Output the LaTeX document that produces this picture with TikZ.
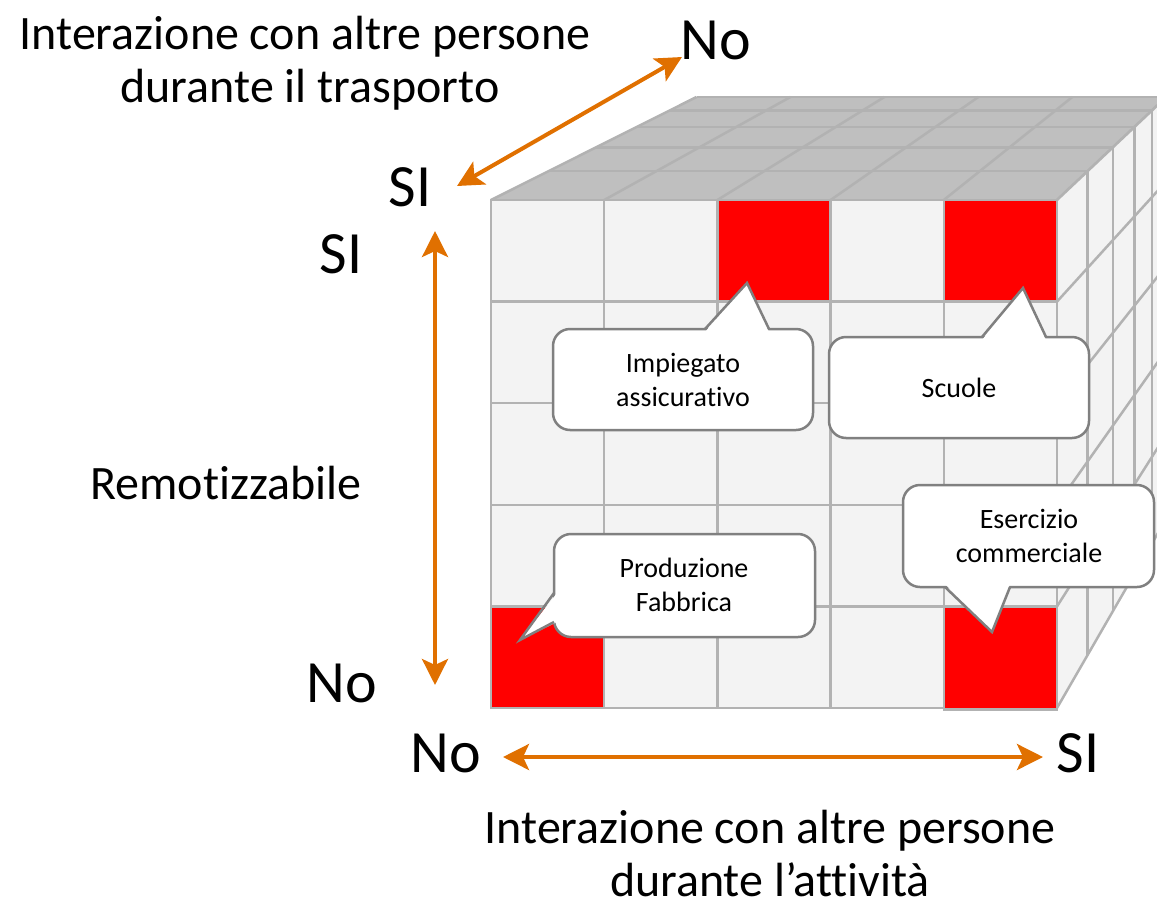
\documentclass[tikz,border=0pt]{standalone}
\usepackage{fontspec}
\setmainfont{Carlito}[Ligatures=NoCommon]
\usetikzlibrary{arrows.meta,calc}
\definecolor{axisorange}{RGB}{224,112,0}
\definecolor{gridgray}{RGB}{178,178,178}
\definecolor{topgray}{RGB}{191,191,191}
\definecolor{cellfill}{RGB}{243,243,243}
\definecolor{callgray}{RGB}{128,128,128}
\tikzset{
  gridline/.style={draw=gridgray,line width=2.5pt},
  axisarrow/.style={draw=axisorange,line width=4pt,
    {Stealth[length=26pt,width=26pt,inset=6pt]}-{Stealth[length=26pt,width=26pt,inset=6pt]}},
  bigtitle/.style={font=\fontsize{48}{56}\selectfont,inner sep=0pt,anchor=base},
  axislabel/.style={font=\fontsize{60}{70}\selectfont,inner sep=0pt},
  calloutbox/.style={draw=callgray,fill=white,line width=2.5pt,rounded corners=17pt},
  callouttail/.style={draw=callgray,line width=2.5pt,line join=miter},
  callouttext/.style={font=\fontsize{28}{34}\selectfont,align=center,inner sep=0pt},
}
\begin{document}
\begin{tikzpicture}[x=1pt,y=-1pt]
\useasboundingbox (0,0) rectangle (1157,900);
\clip (0,0) rectangle (1157,900);
\coordinate (VP) at (1700,-406);
% top face
\fill[topgray] (491,200) -- (1057,200) -- ($(1057,200)!0.17007!(VP)$) -- ($(491,200)!0.17007!(VP)$) -- cycle;
\foreach \x in {491,604.2,717.4,830.6,943.8,1057}
  \draw[gridline] (\x,200) -- ($(\x,200)!0.17007!(VP)$);
\foreach \t [evaluate=\t as \f using \t/5.88] in {0.28,0.51,0.71,0.87,1}
  \draw[gridline] ($(491,200)!\f!(VP)$) -- ($(1057,200)!\f!(VP)$);
% right face
\fill[cellfill] (1057,200) -- (1057,708) -- ($(1057,708)!0.17007!(VP)$) -- ($(1057,200)!0.17007!(VP)$) -- cycle;
\foreach \y in {200,301.6,403.2,504.8,606.4,708}
  \draw[gridline] (1057,\y) -- ($(1057,\y)!0.17007!(VP)$);
\foreach \t [evaluate=\t as \f using \t/5.88] in {0.28,0.51,0.71,0.87,1}
  \draw[gridline] ($(1057,200)!\f!(VP)$) -- ($(1057,708)!\f!(VP)$);
% front face
\foreach \i in {0,...,4}
  \foreach \j in {0,...,4}
    \filldraw[gridline,fill=cellfill] ({491+113.2*\i},{200+101.6*\j}) rectangle ++(113.2,101.6);
\filldraw[gridline,fill=red] (717.4,200) rectangle ++(113.2,101.6);
\filldraw[gridline,fill=red] (943.8,200) rectangle ++(113.2,101.6);
\filldraw[gridline,fill=red] (491,606.4) rectangle ++(113.2,101.6);
\filldraw[gridline,fill=red] (943.8,606.4) rectangle ++(113.2,103);
% callout 1
\path[calloutbox] (553,329) rectangle (813,430);
\fill[white] (705,332) -- (747,283) -- (769,332) -- cycle;
\draw[callouttail] (705,329) -- (747,283) -- (769,329);
\node[callouttext] (c1) at (683,380) {Impiegato\\assicurativo};
% callout 2
\path[calloutbox] (829,337) rectangle (1089,438);
\fill[white] (982,340) -- (1023,288) -- (1046,340) -- cycle;
\draw[callouttail] (982,337) -- (1023,288) -- (1046,337);
\node[callouttext] (c2) at (959,388) {Scuole};
% callout 3
\path[calloutbox] (554,534) rectangle (815,637);
\fill[white] (557,593) -- (520,640) -- (557,622) -- cycle;
\draw[callouttail] (554,593) -- (520,640) -- (554,622);
\node[callouttext] (c3) at (684,585) {Produzione\\Fabbrica};
% callout 4
\path[calloutbox] (903,485) rectangle (1154,587);
\fill[white] (945,584) -- (992,632) -- (1010,584) -- cycle;
\draw[callouttail] (945,587) -- (992,632) -- (1010,587);
\node[callouttext] (c4) at (1029,536) {Esercizio\\commerciale};
% labels
\node[bigtitle] (tt1) at (305,49) {Interazione con altre persone};
\node[bigtitle] (tt2) at (310,102) {durante il trasporto};
\node[bigtitle] (bt1) at (770,843) {Interazione con altre persone};
\node[bigtitle] (bt2) at (770,896) {durante l’attività};
\node[bigtitle,anchor=center] (rm) at (226,483) {Remotizzabile};
\node[axislabel] (noT) at (716,40) {No};
\node[axislabel] (siT) at (410,187) {SI};
\node[axislabel] (siL) at (341,254) {SI};
\node[axislabel] (noL) at (342,683) {No};
\node[axislabel] (noB) at (446,753) {No};
\node[axislabel] (siB) at (1078,753) {SI};
% arrows
\coordinate (tA) at (457,186);
\coordinate (tB) at (682,57);
\coordinate (vA) at (435,231);
\coordinate (vB) at (435,685);
\coordinate (hA) at (503,757);
\coordinate (hB) at (1043,757);
\draw[axisarrow] (tA) -- (tB);
\draw[axisarrow] (vA) -- (vB);
\draw[axisarrow] (hA) -- (hB);
\end{tikzpicture}
\end{document}
